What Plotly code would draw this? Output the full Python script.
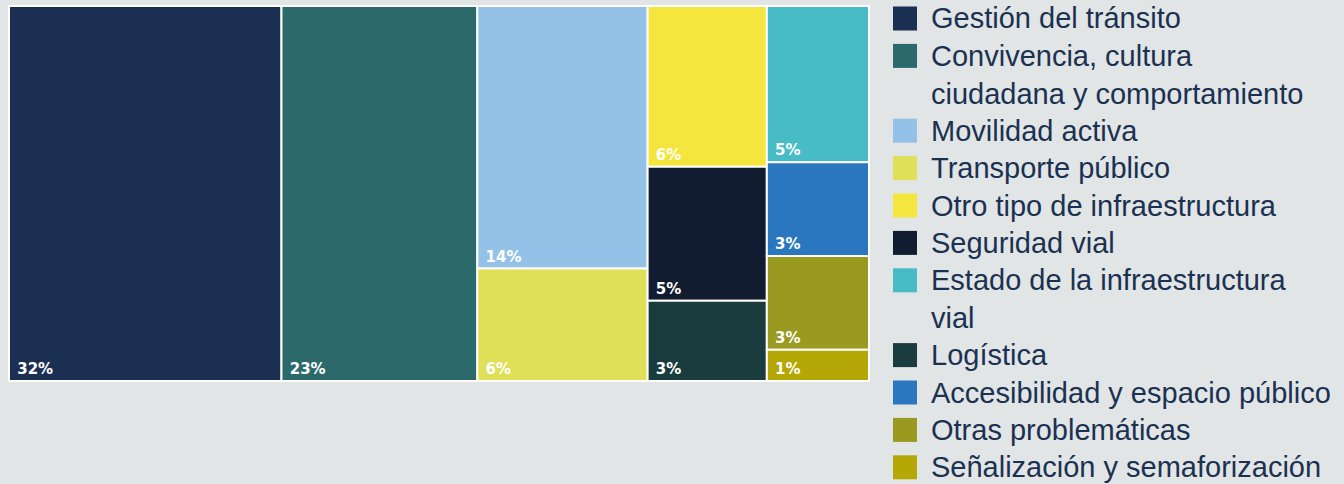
import plotly.graph_objects as go

# ---- data ----
categories = [
    "Gestión del tránsito",
    "Convivencia, cultura ciudadana y comportamiento",
    "Movilidad activa",
    "Transporte público",
    "Otro tipo de infraestructura",
    "Seguridad vial",
    "Estado de la infraestructura vial",
    "Logística",
    "Accesibilidad y espacio público",
    "Otras problemáticas",
    "Señalización y semaforización",
]
legend_labels = [
    "Gestión del tránsito",
    "Convivencia, cultura<br>ciudadana y comportamiento",
    "Movilidad activa",
    "Transporte público",
    "Otro tipo de infraestructura",
    "Seguridad vial",
    "Estado de la infraestructura<br>vial",
    "Logística",
    "Accesibilidad y espacio público",
    "Otras problemáticas",
    "Señalización y semaforización",
]
values = [32, 23, 14, 6, 6, 5, 5, 3, 3, 3, 1]
columns = ["G1", "G2", "G3", "G3", "G4", "G4", "G5", "G4", "G5", "G5", "G5"]
colors = [
    "#1b2f53", "#2b696b", "#94c1e8", "#dfdf58", "#f4e63c", "#111c30",
    "#47bcc6", "#1b3c3e", "#2a77bf", "#9a9a20", "#b4a706",
]

# ---- hierarchy (columns -> cells) ----
group_ids = []
for c in columns:
    if c not in group_ids:
        group_ids.append(c)

ids = ["root"] + group_ids + categories
parents = [""] + ["root"] * len(group_ids) + columns
vals = [0] + [0] * len(group_ids) + values
texts = [""] + [""] * len(group_ids) + [f"\u00a0{v}%" for v in values]
node_colors = ["#e1e5e5"] + ["#e1e5e5"] * len(group_ids) + colors
line_w = [0] + [0] * len(group_ids) + [2] * len(categories)

W, H = 1344, 484
fig = go.Figure(
    go.Treemap(
        ids=ids,
        labels=ids,
        parents=parents,
        values=vals,
        text=texts,
        textinfo="text",
        textposition="bottom left",
        sort=False,
        tiling=dict(packing="slice-dice", pad=0),
        marker=dict(
            colors=node_colors,
            line=dict(color="#ffffff", width=line_w),
            pad=dict(t=0, l=0, r=0, b=0),
        ),
        insidetextfont=dict(family="DejaVu Sans", size=15, color="#ffffff", weight=700),
        pathbar=dict(visible=False),
        domain=dict(x=[9 / W, 869 / W], y=[1 - 381 / H, 1 - 6 / H]),
        hoverinfo="label+text",
    )
)

# ---- legend drawn as squares + text ----
step = 37.4
start = 18.5
line = 0
shapes = []
annotations = []
for lab, col in zip(legend_labels, colors):
    n = lab.count("<br>") + 1
    cy = start + line * step
    shapes.append(dict(
        type="rect", xref="paper", yref="paper",
        x0=893 / W, x1=917 / W,
        y0=1 - (cy + 12) / H, y1=1 - (cy - 12) / H,
        fillcolor=col, line=dict(width=0),
    ))
    ymid = start + (line + (n - 1) / 2) * step
    annotations.append(dict(
        xref="paper", yref="paper", x=929 / W, y=1 - ymid / H,
        xanchor="left", yanchor="middle", align="left",
        text=lab, showarrow=False,
        font=dict(family="Liberation Sans", size=29, color="#1b3152"),
    ))
    line += n

fig.update_layout(
    width=W, height=H,
    margin=dict(l=0, r=0, t=0, b=0),
    paper_bgcolor="#e1e5e5",
    plot_bgcolor="#e1e5e5",
    shapes=shapes,
    annotations=annotations,
)

fig.write_html(
    "out.html",
    config={"displayModeBar": False},
    post_script="document.body.style.margin='0';document.body.style.padding='0';",
)
